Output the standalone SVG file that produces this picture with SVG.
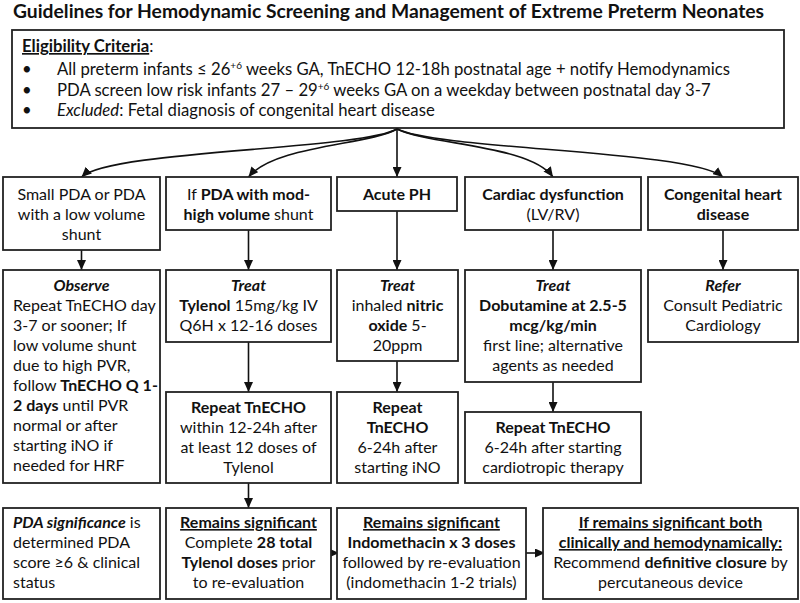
<svg xmlns="http://www.w3.org/2000/svg" width="800" height="603" viewBox="0 0 800 603">
<style>
text{font-family:Lato,"Liberation Sans",sans-serif;font-size:16px;fill:#111}
.m{text-anchor:middle}
.b{font-weight:bold}
.i{font-style:italic}
.u{text-decoration:underline}
.e{font-size:16.7px}
.box{fill:#fff;stroke:#222;stroke-width:1.8}
.c{fill:none;stroke:#111;stroke-width:1.6}
</style>
<defs>
<marker id="ah" markerUnits="userSpaceOnUse" markerWidth="10" markerHeight="9" refX="10" refY="4.5" orient="auto">
<path d="M0,0 L10,4.5 L0,9 z" fill="#111"/>
</marker>
</defs>
<rect width="800" height="603" fill="#fff"/>
<text id="title" x="13" y="18" class="b" style="font-size:19px" textLength="751" lengthAdjust="spacingAndGlyphs">Guidelines for Hemodynamic Screening and Management of Extreme Preterm Neonates</text>

<g id="eligibility">
<rect class="box" x="12" y="30" width="772" height="98"/>
<text class="e" x="22" y="52"><tspan class="b u">Eligibility Criteria</tspan>:</text>
<text class="e" x="22" y="75">•</text>
<text class="e" x="57" y="75">All preterm infants  ≤ 26<tspan dy="-6" style="font-size:10px">+6</tspan><tspan dy="6"> weeks GA, TnECHO 12-18h postnatal age + notify Hemodynamics</tspan></text>
<text class="e" x="22" y="96">•</text>
<text class="e" x="57" y="96">PDA screen low risk infants 27 – 29<tspan dy="-6" style="font-size:10px">+6</tspan><tspan dy="6"> weeks GA on a weekday between postnatal day 3-7</tspan></text>
<text class="e" x="22" y="116">•</text>
<text class="e" x="57" y="116"><tspan class="i">Excluded</tspan>: Fetal diagnosis of congenital heart disease</text>
</g>

<g id="connectors">
<path class="c" d="M397,129 C360,150 110,150 81.5,177" marker-end="url(#ah)"/>
<path class="c" d="M397,129 C370,145 275,145 248.5,177" marker-end="url(#ah)"/>
<path class="c" d="M397,129 L397,177" marker-end="url(#ah)"/>
<path class="c" d="M397,129 C430,145 530,145 553,177" marker-end="url(#ah)"/>
<path class="c" d="M397,129 C440,150 690,150 723,177" marker-end="url(#ah)"/>
<path class="c" d="M81.5,250 L81.5,270" marker-end="url(#ah)"/>
<path class="c" d="M248.5,230 L248.5,270" marker-end="url(#ah)"/>
<path class="c" d="M397,211 L397,270" marker-end="url(#ah)"/>
<path class="c" d="M553,230 L553,270" marker-end="url(#ah)"/>
<path class="c" d="M723,230 L723,270" marker-end="url(#ah)"/>
<path class="c" d="M248.5,342 L248.5,392" marker-end="url(#ah)"/>
<path class="c" d="M397,361 L397,392" marker-end="url(#ah)"/>
<path class="c" d="M553,382 L553,412" marker-end="url(#ah)"/>
<path class="c" d="M248.5,483 L248.5,508" marker-end="url(#ah)"/>
<path class="c" d="M331,553 L339,553" marker-end="url(#ah)"/>
<path class="c" d="M526,553 L545,553" marker-end="url(#ah)"/>
</g>

<g id="smallPDA">
<rect class="box" x="3" y="177" width="157" height="73"/>
<text class="m" x="81.5" y="200">Small PDA or PDA</text>
<text class="m" x="81.5" y="220">with a low volume</text>
<text class="m" x="81.5" y="240">shunt</text>
</g>
<g id="modHigh">
<rect class="box" x="166" y="177" width="165" height="53"/>
<text class="m" x="248.5" y="200">If <tspan class="b">PDA with mod-</tspan></text>
<text class="m" x="248.5" y="220"><tspan class="b">high volume</tspan> shunt</text>
</g>
<g id="acutePH">
<rect class="box" x="337" y="177" width="120" height="34"/>
<text class="m b" x="397" y="200">Acute PH</text>
</g>
<g id="cardiac">
<rect class="box" x="465" y="177" width="176" height="53"/>
<text class="m b" x="553" y="200">Cardiac dysfunction</text>
<text class="m" x="553" y="220">(LV/RV)</text>
</g>
<g id="chd">
<rect class="box" x="648" y="177" width="150" height="53"/>
<text class="m b" x="723" y="200">Congenital heart</text>
<text class="m b" x="723" y="220">disease</text>
</g>

<g id="observe">
<rect class="box" x="3" y="270" width="157" height="213"/>
<text class="m b i" x="81.5" y="291">Observe</text>
<text x="13" y="311">Repeat TnECHO day</text>
<text x="13" y="331">3-7 or sooner; If</text>
<text x="13" y="351">low volume shunt</text>
<text x="13" y="371">due to high PVR,</text>
<text x="13" y="391">follow <tspan class="b">TnECHO Q 1-</tspan></text>
<text x="13" y="411"><tspan class="b">2 days</tspan> until PVR</text>
<text x="13" y="431">normal or after</text>
<text x="13" y="451">starting iNO if</text>
<text x="13" y="471">needed for HRF</text>
</g>
<g id="treatTylenol">
<rect class="box" x="166" y="270" width="165" height="72"/>
<text class="m b i" x="248.5" y="291">Treat</text>
<text class="m" x="248.5" y="311"><tspan class="b">Tylenol</tspan> 15mg/kg IV</text>
<text class="m" x="248.5" y="331">Q6H x 12-16 doses</text>
</g>
<g id="treatNO">
<rect class="box" x="337" y="270" width="121" height="91"/>
<text class="m b i" x="397.5" y="291">Treat</text>
<text class="m" x="397.5" y="311">inhaled <tspan class="b">nitric</tspan></text>
<text class="m" x="397.5" y="331"><tspan class="b">oxide</tspan> 5-</text>
<text class="m" x="397.5" y="351">20ppm</text>
</g>
<g id="treatDobutamine">
<rect class="box" x="465" y="270" width="176" height="112"/>
<text class="m b i" x="553" y="291">Treat</text>
<text class="m b" x="553" y="311">Dobutamine at 2.5-5</text>
<text class="m b" x="553" y="331">mcg/kg/min</text>
<text class="m" x="553" y="351">first line; alternative</text>
<text class="m" x="553" y="371">agents as needed</text>
</g>
<g id="refer">
<rect class="box" x="648" y="270" width="150" height="72"/>
<text class="m b i" x="723" y="291">Refer</text>
<text class="m" x="723" y="311">Consult Pediatric</text>
<text class="m" x="723" y="331">Cardiology</text>
</g>

<g id="repeatTylenol">
<rect class="box" x="166" y="392" width="165" height="91"/>
<text class="m b" x="248.5" y="413">Repeat TnECHO</text>
<text class="m" x="248.5" y="433">within 12-24h after</text>
<text class="m" x="248.5" y="453">at least 12 doses of</text>
<text class="m" x="248.5" y="473">Tylenol</text>
</g>
<g id="repeatNO">
<rect class="box" x="337" y="392" width="121" height="91"/>
<text class="m b" x="397.5" y="413">Repeat</text>
<text class="m b" x="397.5" y="433">TnECHO</text>
<text class="m" x="397.5" y="453">6-24h after</text>
<text class="m" x="397.5" y="473">starting iNO</text>
</g>
<g id="repeatCardio">
<rect class="box" x="465" y="412" width="176" height="71"/>
<text class="m b" x="553" y="433">Repeat TnECHO</text>
<text class="m" x="553" y="453">6-24h after starting</text>
<text class="m" x="553" y="473">cardiotropic therapy</text>
</g>

<g id="significance">
<rect class="box" x="3" y="508" width="157" height="91"/>
<text x="13" y="528"><tspan class="b i">PDA significance</tspan> is</text>
<text x="13" y="548">determined PDA</text>
<text x="13" y="568">score ≥6 &amp; clinical</text>
<text x="13" y="588">status</text>
</g>
<g id="remains1">
<rect class="box" x="166" y="508" width="165" height="91"/>
<text class="m b u" x="248.5" y="528">Remains significant</text>
<text class="m" x="248.5" y="548">Complete <tspan class="b">28 total</tspan></text>
<text class="m" x="248.5" y="568"><tspan class="b">Tylenol doses</tspan> prior</text>
<text class="m" x="248.5" y="588">to re-evaluation</text>
</g>
<g id="remains2">
<rect class="box" x="337" y="508" width="189" height="91"/>
<text class="m b u" x="431.5" y="528">Remains significant</text>
<text class="m b" x="431.5" y="548">Indomethacin x 3 doses</text>
<text class="m" x="431.5" y="568">followed by re-evaluation</text>
<text class="m" x="431.5" y="588">(indomethacin 1-2 trials)</text>
</g>
<g id="closure">
<rect class="box" x="543" y="508" width="255" height="91"/>
<text class="m b u" x="670.5" y="528">If remains significant both</text>
<text class="m b u" x="670.5" y="548">clinically and hemodynamically:</text>
<text class="m" x="670.5" y="568">Recommend <tspan class="b">definitive closure</tspan> by</text>
<text class="m" x="670.5" y="588">percutaneous device</text>
</g>
</svg>
